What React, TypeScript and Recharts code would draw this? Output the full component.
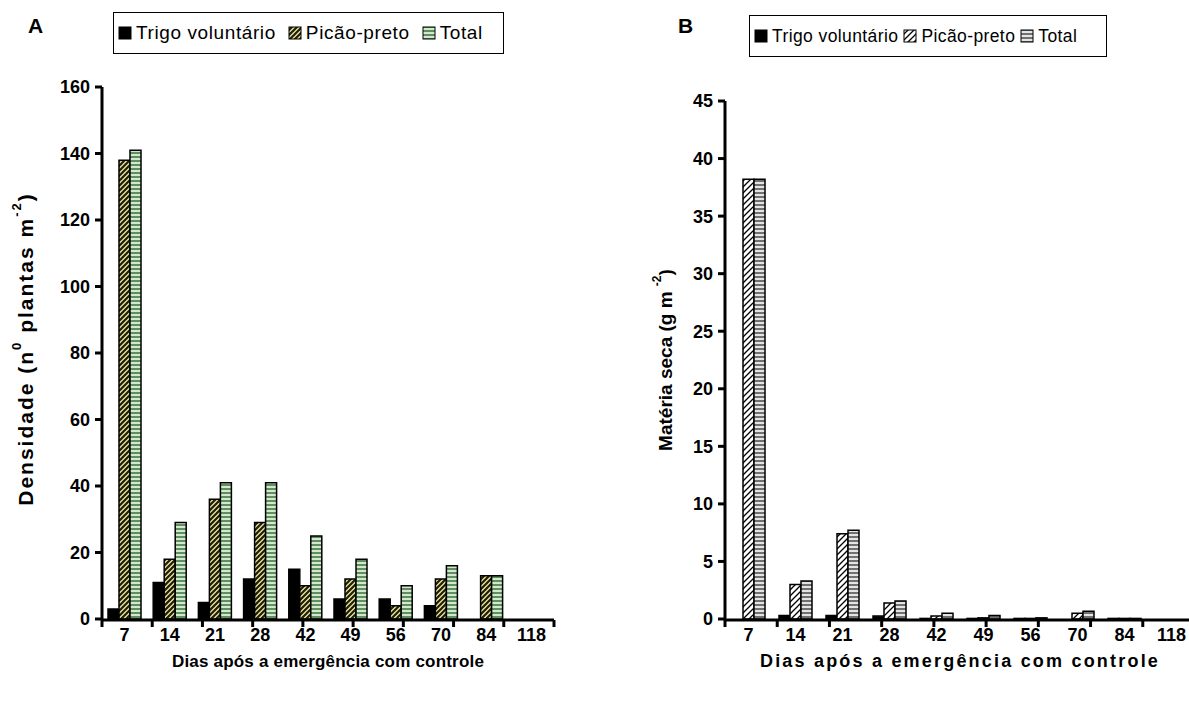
import React from "react";
import { BarChart, Bar, XAxis, YAxis } from "recharts";

const days = ["7", "14", "21", "28", "42", "49", "56", "70", "84", "118"];

// panel A - density (plants m-2)
const trigoDensity = [3, 11, 5, 12, 15, 6, 6, 4, 0, 0];
const picaoDensity = [138, 18, 36, 29, 10, 12, 4, 12, 13, 0];
const totalDensity = [141, 29, 41, 41, 25, 18, 10, 16, 13, 0];

// panel B - dry matter (g m-2)
const trigoMass = [0, 0.3, 0.3, 0.25, 0.05, 0.05, 0.05, 0, 0.05, 0];
const picaoMass = [38.2, 3.0, 7.4, 1.4, 0.26, 0.1, 0.05, 0.5, 0.05, 0];
const totalMass = [38.2, 3.3, 7.7, 1.57, 0.5, 0.3, 0.1, 0.67, 0.05, 0];

const densityTicks = [0, 20, 40, 60, 80, 100, 120, 140, 160];
const massTicks = [0, 5, 10, 15, 20, 25, 30, 35, 40, 45];
const edgeTicks = [0, 1, 2, 3, 4, 5, 6, 7, 8, 9, 10];

const seriesNames = ["Trigo voluntário", "Picão-preto", "Total"];

const FONT = "'Liberation Sans', Arial, sans-serif";

const densityData = days.map((d, i) => ({
  day: d,
  trigo: trigoDensity[i],
  picao: picaoDensity[i],
  total: totalDensity[i],
}));

const massData = days.map((d, i) => ({
  day: d,
  trigo: trigoMass[i],
  picao: picaoMass[i],
  total: totalMass[i],
}));

const Patterns = () => (
  <svg width={0} height={0} style={{ position: "absolute" }}>
    <defs>
      <pattern id="picaoA" patternUnits="userSpaceOnUse" width={5} height={5}>
        <rect width={5} height={5} fill="#ebe69a" />
        <path d="M-1,1 l2,-2 M0,5 l5,-5 M4,6 l2,-2" stroke="#1e1e0a" strokeWidth={2.2} />
      </pattern>
      <pattern id="totalA" patternUnits="userSpaceOnUse" width={4} height={4}>
        <rect width={4} height={4} fill="#d4e8d0" />
        <rect width={4} height={2} fill="#5f8f5f" />
      </pattern>
      <pattern id="picaoB" patternUnits="userSpaceOnUse" width={6} height={6}>
        <rect width={6} height={6} fill="#fff" />
        <path d="M-1,1 l2,-2 M0,6 l6,-6 M5,7 l2,-2" stroke="#000" strokeWidth={1.3} />
      </pattern>
      <pattern id="totalB" patternUnits="userSpaceOnUse" width={4} height={4}>
        <rect width={4} height={4} fill="#e4e4e4" />
        <rect width={4} height={2} fill="#707070" />
      </pattern>
    </defs>
  </svg>
);

type LegendProps = {
  fills: string[];
  left: number;
  top: number;
  width: number;
  fontSize: number;
  spacing: number;
  gap: number;
};

const LegendBox = ({ fills, left, top, width, fontSize, spacing, gap }: LegendProps) => (
  <div
    style={{
      position: "absolute",
      left,
      top,
      width,
      height: 42,
      border: "1px solid #000",
      boxSizing: "border-box",
      display: "flex",
      alignItems: "center",
      paddingLeft: 4,
      fontFamily: FONT,
      fontSize,
      letterSpacing: spacing,
      background: "#fff",
      whiteSpace: "nowrap",
    }}
  >
    {seriesNames.map((name, i) => (
      <span key={name} style={{ display: "flex", alignItems: "center", marginRight: gap }}>
        <svg width={14} height={14} style={{ marginRight: 4 }}>
          <rect x={1} y={1} width={12} height={12} fill={fills[i]} stroke="#000" strokeWidth={1} />
        </svg>
        {name}
      </span>
    ))}
  </div>
);

const axisLine = { stroke: "#000", strokeWidth: 3 };
const tickStyle = { fill: "#000", fontSize: 18, fontWeight: "bold" as const, fontFamily: FONT };
const noLabel = () => <g />;

const makeXTitle = (size: number, spacing: number) => (props: any) => {
  const vb = props.viewBox;
  return (
    <text
      x={vb.x + vb.width / 2}
      y={667}
      textAnchor="middle"
      fontFamily={FONT}
      fontSize={size}
      fontWeight="bold"
      letterSpacing={spacing}
      fill="#000"
    >
      Dias após a emergência com controle
    </text>
  );
};

const yTitleA = () => (
  <text
    x={25}
    y={349}
    transform="rotate(-90 25 349)"
    textAnchor="middle"
    dominantBaseline="central"
    fontFamily={FONT}
    fontSize={21}
    fontWeight="bold"
    letterSpacing={2}
    fill="#000"
  >
    Densidade (n<tspan dy={-9} fontSize={13}>0</tspan>
    <tspan dy={9}> plantas m</tspan>
    <tspan dy={-9} fontSize={13}>-2</tspan>
    <tspan dy={9}>)</tspan>
  </text>
);

const yTitleB = () => (
  <text
    x={65}
    y={360}
    transform="rotate(-90 65 360)"
    textAnchor="middle"
    dominantBaseline="central"
    fontFamily={FONT}
    fontSize={19}
    fontWeight="bold"
    fill="#000"
  >
    Matéria seca (g m <tspan dy={-8} fontSize={12}>-2</tspan>
    <tspan dy={8}>)</tspan>
  </text>
);

type PanelProps = {
  data: any[];
  width: number;
  margin: { top: number; right: number; bottom: number; left: number };
  yMax: number;
  yTicks: number[];
  fills: string[];
  yTitle: () => React.ReactElement;
  xTitle: (props: any) => React.ReactElement;
};

const Panel = ({ data, width, margin, yMax, yTicks, fills, yTitle, xTitle }: PanelProps) => (
  <BarChart width={width} height={705} data={data} margin={margin} barGap={0}>
    {/* boundary ticks between categories */}
    <XAxis
      xAxisId="edges"
      type="number"
      domain={[0, 10]}
      ticks={edgeTicks}
      interval={0}
      height={39}
      tick={noLabel}
      axisLine={axisLine}
      tickLine={axisLine}
      tickSize={7}
    />
    <XAxis
      dataKey="day"
      height={1}
      axisLine={false}
      tickLine={false}
      tick={tickStyle}
      tickMargin={3}
      interval={0}
      label={{ content: xTitle }}
    />
    <YAxis
      width={60}
      domain={[0, yMax]}
      ticks={yTicks}
      interval={0}
      axisLine={axisLine}
      tickLine={axisLine}
      tickSize={7}
      tickMargin={5}
      tick={tickStyle}
      label={{ content: yTitle }}
    />
    <Bar dataKey="trigo" barSize={11} fill={fills[0]} stroke="#000" strokeWidth={1.5} isAnimationActive={false} />
    <Bar dataKey="picao" barSize={11} fill={fills[1]} stroke="#000" strokeWidth={1.5} isAnimationActive={false} />
    <Bar dataKey="total" barSize={11} fill={fills[2]} stroke="#000" strokeWidth={1.5} isAnimationActive={false} />
  </BarChart>
);

const fillsA = ["#000", "url(#picaoA)", "url(#totalA)"];
const fillsB = ["#000", "url(#picaoB)", "url(#totalB)"];

const App = () => {
  return (
    <div
      style={{
        position: "absolute",
        left: 0,
        top: 0,
        width: 1189,
        height: 705,
        overflow: "hidden",
        background: "#fff",
        fontFamily: FONT,
      }}
    >
      <Patterns />

      <div style={{ position: "absolute", left: 0, top: 0 }}>
        <Panel
          data={densityData}
          width={580}
          margin={{ top: 87, right: 26, bottom: 46, left: 42 }}
          yMax={160}
          yTicks={densityTicks}
          fills={fillsA}
          yTitle={yTitleA}
          xTitle={makeXTitle(17, 0.2)}
        />
      </div>

      <div style={{ position: "absolute", left: 600, top: 0 }}>
        <Panel
          data={massData}
          width={600}
          margin={{ top: 101, right: 5, bottom: 46, left: 65 }}
          yMax={45}
          yTicks={massTicks}
          fills={fillsB}
          yTitle={yTitleB}
          xTitle={makeXTitle(18, 2.2)}
        />
      </div>

      <div style={{ position: "absolute", left: 28, top: 14, fontSize: 21, fontWeight: "bold" }}>A</div>
      <div style={{ position: "absolute", left: 678, top: 14, fontSize: 21, fontWeight: "bold" }}>B</div>

      <LegendBox fills={fillsA} left={113} top={12} width={391} fontSize={19} spacing={0.6} gap={12} />
      <LegendBox fills={fillsB} left={749} top={15} width={358} fontSize={17.5} spacing={0.4} gap={5} />
    </div>
  );
};

export default App;
